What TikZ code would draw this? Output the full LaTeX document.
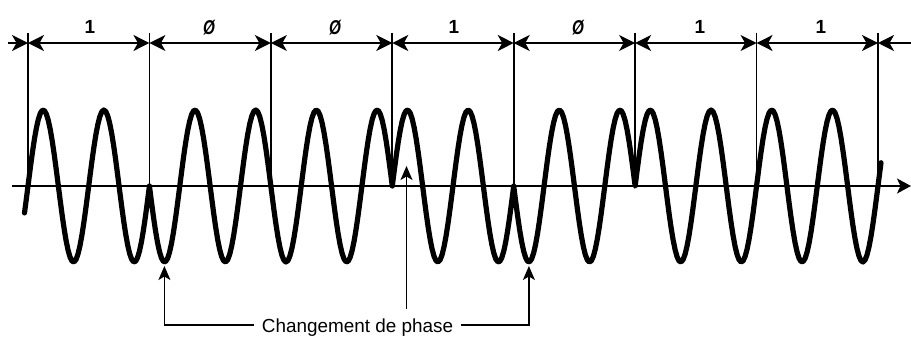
\documentclass[tikz,border=0pt]{standalone}
\usepackage{fontspec}
\usepackage{graphicx}
\setmainfont{Liberation Sans}
\usetikzlibrary{arrows.meta}
\begin{document}
\begin{tikzpicture}[x=1pt,y=-1pt,
  wave/.style={line width=5.2pt, line join=round, line cap=round},
  guide/.style={line width=1.6pt},
  axisline/.style={line width=1.8pt},
  dimtip/.style={line width=1.7pt},
  ptr/.style={line width=1.5pt, -{Stealth[length=14pt,width=12pt,inset=3.5pt]}},
  lab/.style={font=\fontsize{19}{19}\selectfont\bfseries, inner sep=0pt},
  captext/.style={font=\fontsize{18.9}{19}\selectfont, inner xsep=8pt, inner ysep=0pt}]
\useasboundingbox (0,0) rectangle (911,340);
% boundaries
\foreach \i in {0,...,7}{
  \coordinate (t\i) at ({28+\i*121.4286},33);
  \coordinate (d\i) at ({28+\i*121.4286},43);
  \coordinate (a\i) at ({28+\i*121.4286},186);
}
\foreach \i in {0,...,7}{ \draw[guide] (t\i) -- (a\i); }
% dimension line
\coordinate (dl) at (8,43);
\coordinate (dr) at (911,43);
\draw[dimtip,-{Stealth[length=16pt,width=16pt,inset=4.5pt]}] (dl) -- (d0);
\draw[dimtip,-{Stealth[length=16pt,width=16pt,inset=4.5pt]}] (dr) -- (d7);
\foreach \i/\j in {0/1,1/2,2/3,3/4,4/5,5/6,6/7}{
  \draw[dimtip,{Stealth[length=16pt,width=16pt,inset=4.5pt]}-{Stealth[length=16pt,width=16pt,inset=4.5pt]}] (d\i) -- (d\j);
}
% labels
\node[lab] (l1) at (90,27) {1};
\node[lab] (l2) at (209,28) {\itshape\scalebox{0.8}[1.05]{Ø}};
\node[lab] (l3) at (335,28) {\itshape\scalebox{0.8}[1.05]{Ø}};
\node[lab] (l4) at (454,27) {1};
\node[lab] (l5) at (578,28) {\itshape\scalebox{0.8}[1.05]{Ø}};
\node[lab] (l6) at (700,27) {1};
\node[lab] (l7) at (821,27) {1};
% axis
\coordinate (ax0) at (12,186);
\coordinate (ax1) at (911,186);
\draw[axisline,-{Stealth[length=14pt,width=15pt,inset=3.5pt]}] (ax0) -- (ax1);
% wave
\draw[wave]
  plot[domain=24.5:149.43, samples=64] (\x,{186-76*sin((\x-28)*5.92945)})
  -- plot[domain=149.43:392.29, samples=122] (\x,{186+76*sin((\x-28)*5.92945)})
  -- plot[domain=392.29:513.71, samples=62] (\x,{186-76*sin((\x-28)*5.92945)})
  -- plot[domain=513.71:635.14, samples=62] (\x,{186+76*sin((\x-28)*5.92945)})
  -- plot[domain=635.14:881, samples=124] (\x,{186-76*sin((\x-28)*5.92945)});
% phase change annotation
\node[captext] (cp) at (357.5,328) {Changement de phase};
\coordinate (lt) at (164.4,266);
\coordinate (rt) at (528.9,266);
\coordinate (mb) at (406.5,309);
\coordinate (mt) at (406.5,166);
\draw[ptr] ([yshift=3pt]cp.west) -| (lt);
\draw[ptr] ([yshift=3pt]cp.east) -| (rt);
\draw[ptr] (mb) -- (mt);
\end{tikzpicture}
\end{document}
